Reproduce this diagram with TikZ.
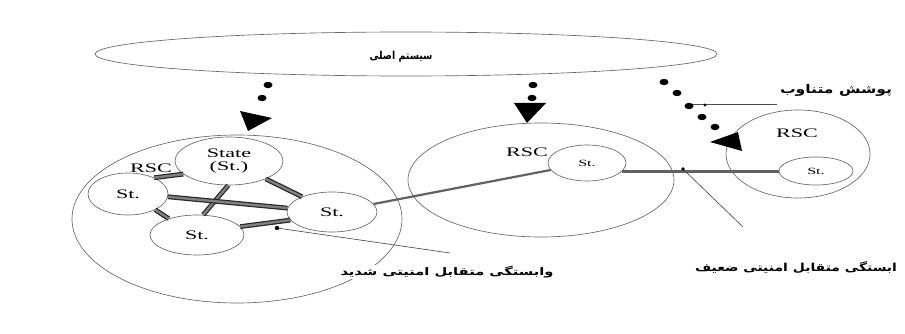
\documentclass[tikz,border=0pt]{standalone}
\usepackage{graphicx}
\usepackage{fontspec}
\setmainfont{Liberation Serif}
\newfontfamily\arabicfont[Script=Arabic]{DejaVu Sans}
\TeXXeTstate=1
\usetikzlibrary{shapes.geometric}
\newcommand\sx[1]{\scalebox{1.7}[1]{#1}}
\newcommand\fa[3]{\resizebox*{#1}{#2}{\arabicfont\bfseries #3}}
\tikzset{
  ell/.style={ellipse, draw=black!60, line width=0.65pt, inner sep=0pt},
  lat/.style={font=\fontsize{13}{14}\selectfont},
  latsm/.style={font=\fontsize{9.5}{11}\selectfont},
  dbl/.style={draw=black!85, line width=1.2pt, double=black!50, double distance=2.4pt},
  lnk/.style={draw=black!62, line width=2.2pt},
  ptr/.style={draw=black!70, line width=0.65pt},
  falbl/.style={fill=white, inner sep=1pt},
  plainlbl/.style={inner sep=0pt}
}
\begin{document}
\begin{tikzpicture}[x=1pt,y=-1pt]
\fill[white] (0,0) rectangle (905,334);
\useasboundingbox (0,0) rectangle (905,334);

% main system
\node[ell, minimum width=622pt, minimum height=44pt] (main) at (406,54) {};
\node[plainlbl] (mainT) at (401,57) {\fa{63pt}{11pt}{\beginR سیستم اصلی\endR}};

% left RSC cluster
\node[ell, minimum width=330pt, minimum height=168pt] (rscL) at (237,219) {};
\node[ell, lat, align=center, minimum width=108pt, minimum height=48pt] (state) at (229,161) {\sx{State}\\[-1pt]\sx{(St.)}};
\node[ell, lat, minimum width=80pt, minimum height=42pt] (stL) at (128,194) {\sx{St.}};
\node[ell, lat, minimum width=94pt, minimum height=40pt] (stB) at (197,235) {\sx{St.}};
\node[ell, lat, minimum width=90pt, minimum height=40pt] (stR) at (332,212) {\sx{St.}};
\node[plainlbl, lat] (rscLt) at (151,168) {\sx{RSC}};

% middle RSC
\node[ell, minimum width=266pt, minimum height=114pt] (rscM) at (541,180) {};
\node[ell, latsm, minimum width=78pt, minimum height=36pt] (stM) at (587,163) {\sx{St.}};
\node[plainlbl, lat] (rscMt) at (527,152) {\sx{RSC}};

% right RSC
\node[ell, minimum width=144pt, minimum height=88pt] (rscR) at (798,154) {};
\node[ell, latsm, minimum width=74pt, minimum height=28pt] (stRR) at (816,171) {\sx{St.}};
\node[plainlbl, lat] (rscRt) at (797,133) {\sx{RSC}};

% strong links
\draw[dbl] (state.196) -- (stL.32);
\draw[dbl] (state.334) -- (stR.153);
\draw[dbl] (state.268) -- (stB.73);
\draw[dbl] (stL.356) -- (stR.175);
\draw[dbl] (stL.330) -- (stB.150);
\draw[dbl] (stB.11) -- (stR.191);

% weak links
\draw[lnk] (stR) -- (stM);
\draw[lnk, line width=2.6pt] (stM.-14) -- (stM.-14 -| stRR.west);

% pointers
\coordinate (wk1) at (683,169);
\coordinate (wk2) at (743,227);
\draw[ptr] (wk1) -- (wk2);
\fill (wk1) circle (1.8pt);
\coordinate (sg1) at (277,228);
\coordinate (sg2) at (450,253);
\draw[ptr] (sg1) -- (sg2);
\fill (sg1) circle (2.2pt);
\coordinate (cv1) at (690,104);
\coordinate (cv2) at (777,104);
\draw[ptr] (cv1) -- (cv2);
\fill (705,105) circle (1.6pt);

% dotted arrows
\foreach \p in {(268,85),(262,98),(533,85),(532,98),(664,82),(677,93),(689,106),(702,117),(715,127)}
  \fill \p ellipse (4.5pt and 3.2pt);
\fill (240,111) -- (272,118) -- (248,131) -- cycle;
\fill (514,103) -- (546,103) -- (527,123) -- cycle;
\fill (710,142) -- (738,132) -- (742,151) -- cycle;

% labels
\node[falbl] (strongT) at (447,272) {\fa{213pt}{12pt}{\beginR وابستگی متقابل امنیتی شدید\endR}};
\node[falbl] (weakT) at (796,268) {\fa{202pt}{12pt}{\beginR ابستگی متقابل امنیتی ضعیف\endR}};
\node[plainlbl] (covT) at (836,90) {\fa{112pt}{12pt}{\beginR پوشش متناوب\endR}};
\end{tikzpicture}
\end{document}
